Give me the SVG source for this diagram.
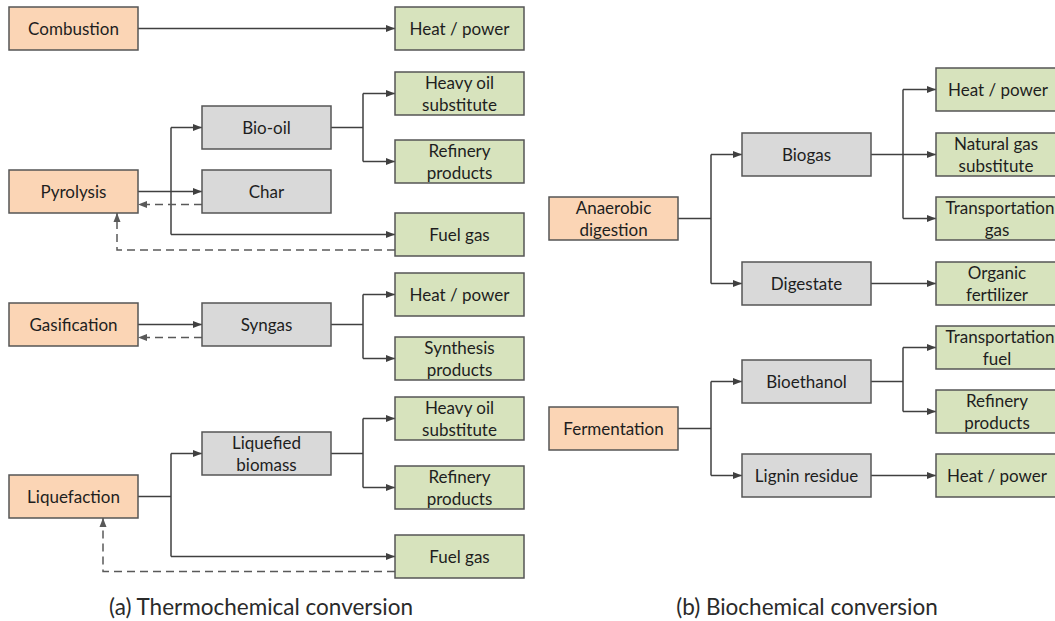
<svg xmlns="http://www.w3.org/2000/svg" width="1055" height="621" viewBox="0 0 1055 621">
<style>
.bx{stroke:#555;stroke-width:1.5}
.o{fill:#fbd5b5}
.g{fill:#d9d9d9}
.gr{fill:#d7e3bd}
text{font-family:Lato,"Liberation Sans",sans-serif;font-size:17px;fill:#1e1e1e;text-anchor:middle;dominant-baseline:central}
.cap{font-size:22.5px;fill:#2a2a2a}
.ln{fill:none;stroke:#404040;stroke-width:1.5}
.ar{marker-end:url(#ah)}
.ds{fill:none;stroke:#595959;stroke-width:1.5;stroke-dasharray:8 5}
</style>
<defs>
<marker id="ah" markerUnits="userSpaceOnUse" markerWidth="10" markerHeight="8" refX="9" refY="4" orient="auto">
<path d="M0,0.5 L9,4 L0,7.5 z" fill="#404040"/>
</marker>
<marker id="ahd" markerUnits="userSpaceOnUse" markerWidth="10" markerHeight="8" refX="9" refY="4" orient="auto">
<path d="M0,0.5 L9,4 L0,7.5 z" fill="#595959"/>
</marker>
</defs>
<g id="connectors">
<path class="ln ar" d="M138 28.5 H395"/>
<path class="ln" d="M331 127.5 H363 M363 93.5 V161.5"/>
<path class="ln ar" d="M363 93.5 H395"/>
<path class="ln ar" d="M363 161.5 H395"/>
<path class="ln ar" d="M138 191.5 H202"/>
<path class="ln" d="M171 127.5 V234.5"/>
<path class="ln ar" d="M171 127.5 H202"/>
<path class="ln ar" d="M171 234.5 H395"/>
<path class="ds" marker-end="url(#ahd)" d="M202 204.5 H138"/>
<path class="ds" marker-end="url(#ahd)" d="M395 250 H117 V213"/>
<path class="ln ar" d="M138 324.5 H202"/>
<path class="ds" marker-end="url(#ahd)" d="M202 337.5 H138"/>
<path class="ln" d="M331 324.5 H363 M363 294.5 V358.5"/>
<path class="ln ar" d="M363 294.5 H395"/>
<path class="ln ar" d="M363 358.5 H395"/>
<path class="ln" d="M138 496.5 H171 M171 453.5 V556.5"/>
<path class="ln ar" d="M171 453.5 H202"/>
<path class="ln ar" d="M171 556.5 H395"/>
<path class="ln" d="M331 453.5 H363 M363 418.5 V487.5"/>
<path class="ln ar" d="M363 418.5 H395"/>
<path class="ln ar" d="M363 487.5 H395"/>
<path class="ds" marker-end="url(#ahd)" d="M395 571.5 H103 V518"/>
<path class="ln" d="M678 218.5 H711 M711 154.5 V283.5"/>
<path class="ln ar" d="M711 154.5 H742"/>
<path class="ln ar" d="M711 283.5 H742"/>
<path class="ln ar" d="M871 154.5 H936"/>
<path class="ln" d="M903 89.5 V218.5"/>
<path class="ln ar" d="M903 89.5 H936"/>
<path class="ln ar" d="M903 218.5 H936"/>
<path class="ln ar" d="M871 283.5 H936"/>
<path class="ln" d="M678 428.5 H711 M711 381.5 V475.5"/>
<path class="ln ar" d="M711 381.5 H742"/>
<path class="ln ar" d="M711 475.5 H742"/>
<path class="ln" d="M871 381.5 H903 M903 347.5 V411.5"/>
<path class="ln ar" d="M903 347.5 H936"/>
<path class="ln ar" d="M903 411.5 H936"/>
<path class="ln ar" d="M871 475.5 H936"/>
</g>
<g id="combustion"><rect class="bx o" x="9" y="7" width="129" height="43"/><text x="73.5" y="28.5">Combustion</text></g>
<g id="heat1"><rect class="bx gr" x="395" y="7" width="129" height="43"/><text x="459.5" y="28.5">Heat / power</text></g>
<g id="heavyoil1"><rect class="bx gr" x="395" y="72" width="129" height="43"/><text x="459.5" y="82.5">Heavy oil</text><text x="459.5" y="104.5">substitute</text></g>
<g id="biooil"><rect class="bx g" x="202" y="106" width="129" height="43"/><text x="266.5" y="127.5">Bio-oil</text></g>
<g id="refinery1"><rect class="bx gr" x="395" y="140" width="129" height="43"/><text x="459.5" y="150.5">Refinery</text><text x="459.5" y="172.5">products</text></g>
<g id="pyrolysis"><rect class="bx o" x="9" y="170" width="129" height="43"/><text x="73.5" y="191.5">Pyrolysis</text></g>
<g id="char"><rect class="bx g" x="202" y="170" width="129" height="43"/><text x="266.5" y="191.5">Char</text></g>
<g id="fuelgas1"><rect class="bx gr" x="395" y="213" width="129" height="43"/><text x="459.5" y="234.5">Fuel gas</text></g>
<g id="heat2"><rect class="bx gr" x="395" y="273" width="129" height="43"/><text x="459.5" y="294.5">Heat / power</text></g>
<g id="gasification"><rect class="bx o" x="9" y="303" width="129" height="43"/><text x="73.5" y="324.5">Gasification</text></g>
<g id="syngas"><rect class="bx g" x="202" y="303" width="129" height="43"/><text x="266.5" y="324.5">Syngas</text></g>
<g id="synthesis"><rect class="bx gr" x="395" y="337" width="129" height="43"/><text x="459.5" y="347.5">Synthesis</text><text x="459.5" y="369.5">products</text></g>
<g id="heavyoil2"><rect class="bx gr" x="395" y="397" width="129" height="43"/><text x="459.5" y="407.5">Heavy oil</text><text x="459.5" y="429.5">substitute</text></g>
<g id="liquefied"><rect class="bx g" x="202" y="432" width="129" height="43"/><text x="266.5" y="442.5">Liquefied</text><text x="266.5" y="464.5">biomass</text></g>
<g id="refinery2"><rect class="bx gr" x="395" y="466" width="129" height="43"/><text x="459.5" y="476.5">Refinery</text><text x="459.5" y="498.5">products</text></g>
<g id="liquefaction"><rect class="bx o" x="9" y="475" width="129" height="43"/><text x="73.5" y="496.5">Liquefaction</text></g>
<g id="fuelgas2"><rect class="bx gr" x="395" y="535" width="129" height="43"/><text x="459.5" y="556.5">Fuel gas</text></g>
<g id="anaerobic"><rect class="bx o" x="549" y="197" width="129" height="43"/><text x="613.5" y="207.5">Anaerobic</text><text x="613.5" y="229.5">digestion</text></g>
<g id="biogas"><rect class="bx g" x="742" y="133" width="129" height="43"/><text x="806.5" y="154.5">Biogas</text></g>
<g id="digestate"><rect class="bx g" x="742" y="262" width="129" height="43"/><text x="806.5" y="283.5">Digestate</text></g>
<g id="heat3"><rect class="bx gr" x="936" y="68" width="129" height="43"/><text x="998" y="89.5">Heat / power</text></g>
<g id="natgas"><rect class="bx gr" x="936" y="133" width="129" height="43"/><text x="996" y="143.5">Natural gas</text><text x="996" y="165.5">substitute</text></g>
<g id="transgas"><rect class="bx gr" x="936" y="197" width="129" height="43"/><text x="1000" y="207.5">Transportation</text><text x="997" y="229.5">gas</text></g>
<g id="organic"><rect class="bx gr" x="936" y="262" width="129" height="43"/><text x="997" y="272.5">Organic</text><text x="997" y="294.5">fertilizer</text></g>
<g id="fermentation"><rect class="bx o" x="549" y="407" width="129" height="43"/><text x="613.5" y="428.5">Fermentation</text></g>
<g id="bioethanol"><rect class="bx g" x="742" y="360" width="129" height="43"/><text x="806.5" y="381.5">Bioethanol</text></g>
<g id="lignin"><rect class="bx g" x="742" y="454" width="129" height="43"/><text x="806.5" y="475.5">Lignin residue</text></g>
<g id="transfuel"><rect class="bx gr" x="936" y="326" width="129" height="43"/><text x="1000" y="336.5">Transportation</text><text x="997" y="358.5">fuel</text></g>
<g id="refinery3"><rect class="bx gr" x="936" y="390" width="129" height="43"/><text x="997" y="400.5">Refinery</text><text x="997" y="422.5">products</text></g>
<g id="heat4"><rect class="bx gr" x="936" y="454" width="129" height="43"/><text x="997" y="475.5">Heat / power</text></g>
<g id="captions"><text class="cap" x="261" y="606">(a) Thermochemical conversion</text><text class="cap" x="807" y="606">(b) Biochemical conversion</text></g>
</svg>
